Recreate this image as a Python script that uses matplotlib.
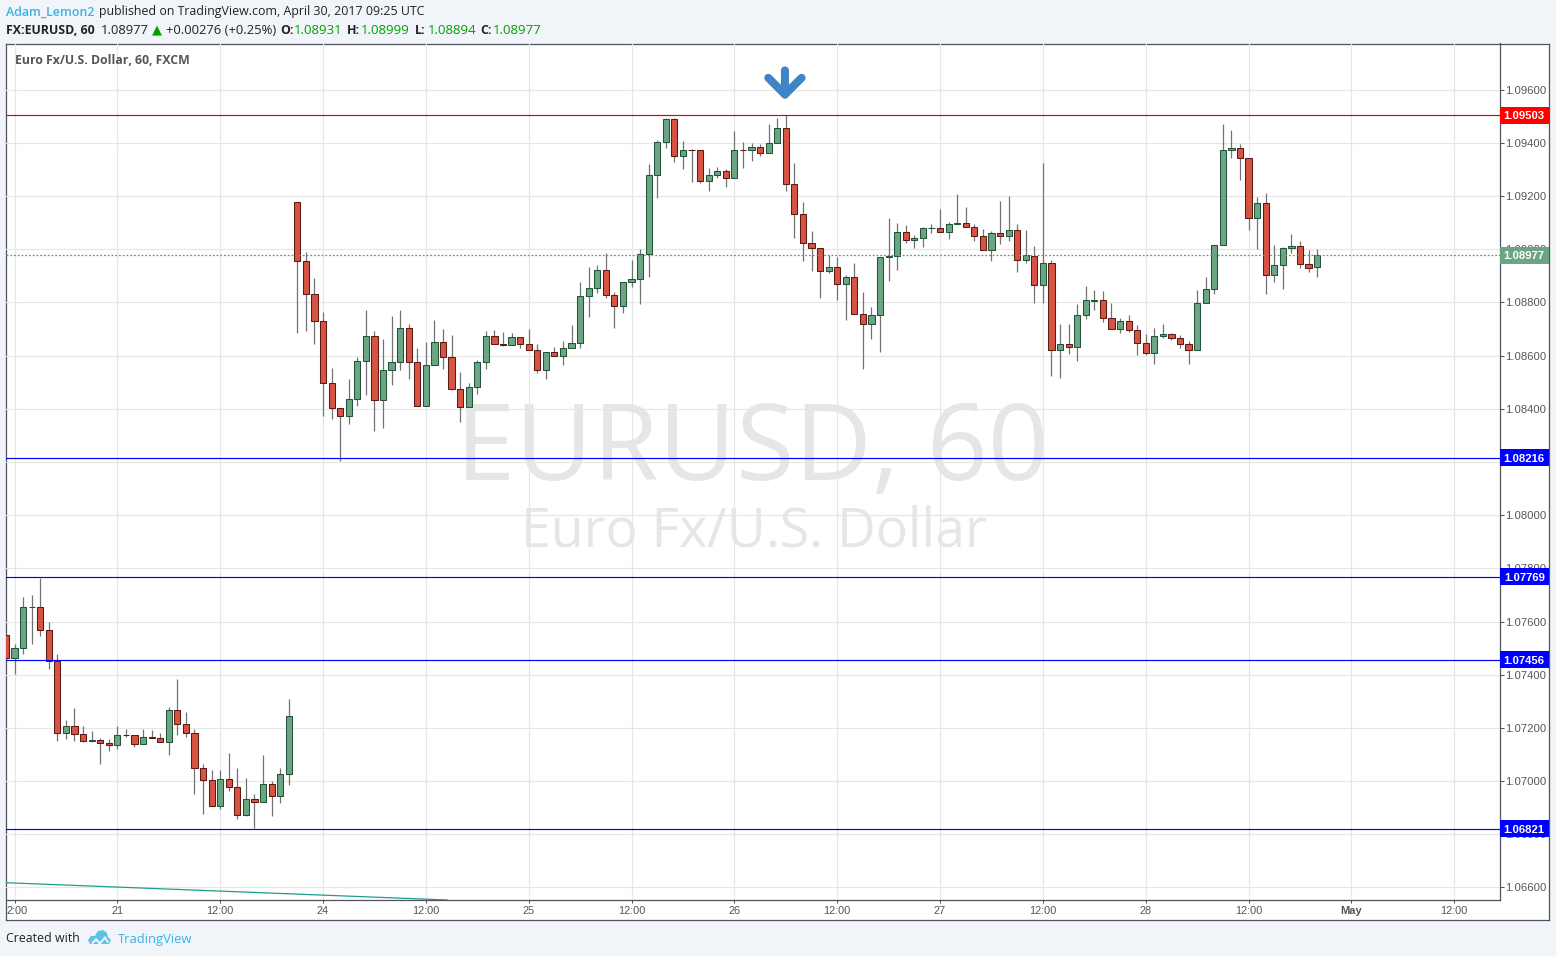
import numpy as np
import matplotlib
matplotlib.use('Agg')
import matplotlib.pyplot as plt
from matplotlib.patches import Polygon, Rectangle
from matplotlib.ticker import FixedLocator
from matplotlib.transforms import ScaledTranslation, blended_transform_factory

W, H = 1556, 956

# candles, in 1e-5 of a dollar
opens = [107548,107463,107501,107654,107655,107568,107452,107181,107208,107177,
         107151,107155,107144,107136,107175,107174,107140,107166,107162,107147,
         107268,107215,107181,107050,107005,106907,107008,106978,106873,106933,
         106922,106989,106944,107027,109179,108957,108833,108728,108498,108401,
         108374,108435,108581,108675,108431,108547,108577,108702,108577,108412,
         108566,108649,108596,108476,108408,108480,108574,108675,108645,108641,
         108671,108645,108619,108544,108613,108598,108628,108647,108823,108853,
         108921,108827,108786,108876,108887,108981,109278,109402,109489,109350,
         109372,109372,109256,109278,109293,109269,109372,109372,109384,109361,
         109399,109455,109244,109132,109023,109004,108917,108932,108868,108895,
         108756,108718,108752,108970,108974,109064,109034,109041,109078,109079,
         109064,109094,109098,109083,109049,108996,109060,109049,109071,108959,
         108975,108864,108947,108620,108642,108631,108751,108806,108808,108740,
         108699,108729,108695,108646,108608,108672,108680,108665,108642,108620,
         108796,108849,109015,109372,109380,109342,109117,109173,108902,108940,
         109004,109011,108944,108931]
highs = [107557,107517,107694,107701,107765,107600,107476,107231,107273,107209,
         107190,107162,107160,107209,107197,107174,107197,107194,107182,107280,
         107382,107261,107197,107066,107043,107040,107107,107051,107010,106953,
         107100,107002,107051,107307,109179,108989,108893,108763,108552,108401,
         108511,108596,108770,108692,108661,108748,108770,108720,108628,108650,
         108733,108699,108676,108537,108496,108582,108692,108695,108688,108683,
         108671,108699,108645,108612,108633,108655,108716,108877,108934,108941,
         108986,108840,108876,108960,109001,109321,109411,109494,109494,109407,
         109377,109372,109306,109310,109302,109445,109404,109400,109396,109471,
         109494,109504,109325,109177,109068,109004,108977,108970,108902,108949,
         108840,108783,108971,109118,109099,109090,109053,109083,109095,109152,
         109102,109208,109159,109094,109075,109068,109182,109201,109094,109073,
         109013,109324,108958,108719,108719,108794,108861,108846,108843,108797,
         108741,108752,108715,108681,108703,108719,108685,108677,108653,108846,
         108895,109014,109471,109449,109396,109342,109196,109212,109016,109008,
         109056,109031,108997,108999]
lows = [107457,107404,107476,107517,107545,107423,107149,107160,107149,107146,
        107146,107066,107115,107122,107164,107130,107140,107162,107147,107100,
        107172,107164,106953,106878,106907,106897,106961,106859,106867,106823,
        106922,106870,106919,106987,108684,108692,108643,108372,108361,108204,
        108342,108410,108451,108316,108327,108488,108545,108511,108412,108412,
        108566,108549,108470,108349,108408,108455,108549,108645,108635,108641,
        108628,108619,108534,108512,108598,108565,108628,108629,108746,108836,
        108817,108704,108761,108858,108794,108896,109193,109381,109328,109302,
        109253,109249,109219,109268,109234,109269,109306,109332,109351,109361,
        109399,109219,109043,108956,108919,108817,108911,108810,108734,108756,
        108550,108663,108614,108881,108922,109024,109005,109009,109061,109064,
        109039,109094,109083,109031,108996,108956,109020,109031,108915,108949,
        108798,108797,108523,108516,108606,108579,108737,108771,108726,108699,
        108685,108688,108602,108602,108568,108666,108658,108628,108568,108620,
        108796,108831,109015,109343,109261,109073,109001,108832,108877,108851,
        108986,108930,108915,108894]
closes = [107463,107501,107655,107655,107568,107452,107181,107208,107177,107151,
          107155,107144,107136,107174,107172,107140,107166,107162,107147,107268,
          107215,107181,107050,107005,106907,107008,106978,106873,106933,106922,
          106989,106944,107027,107245,108957,108833,108728,108498,108401,108374,
          108435,108581,108675,108431,108547,108577,108702,108577,108412,108566,
          108649,108596,108476,108408,108480,108574,108675,108645,108641,108671,
          108645,108619,108544,108612,108598,108628,108647,108823,108853,108921,
          108827,108786,108876,108887,108981,109278,109402,109489,109350,109372,
          109371,109256,109278,109293,109269,109372,109371,109384,109361,109399,
          109455,109244,109132,109023,109004,108917,108932,108868,108895,108756,
          108718,108752,108971,108975,109064,109034,109041,109079,109079,109064,
          109094,109098,109083,109049,108996,109060,109049,109071,108959,108977,
          108865,108947,108620,108642,108631,108751,108808,108808,108740,108699,
          108729,108695,108646,108608,108672,108680,108665,108642,108620,108796,
          108849,109014,109372,109380,109342,109117,109173,108902,108940,109004,
          109011,108944,108929,108977]

level_blue = [1.08216, 1.07769, 1.07456, 1.06821]
level_red = 1.09503
last_price = 1.08977

price_ticks = [1.066, 1.068, 1.070, 1.072, 1.074, 1.076, 1.078, 1.080,
               1.082, 1.084, 1.086, 1.088, 1.090, 1.092, 1.094, 1.096]
time_ticks = [1, 13, 25, 37, 49, 61, 73, 85, 97, 109, 121, 133, 145, 157, 169]
time_labels = ['2:00', '21', '12:00', '24', '12:00', '25', '12:00', '26', '12:00',
               '27', '12:00', '28', '12:00', 'May', '12:00']

trend_x = [0, 51.5]
trend_y = [1.06618, 1.06553]

UP, UP_EDGE = '#6ba583', '#225437'
DOWN, DOWN_EDGE = '#d75442', '#5b1a13'
WICK = '#737375'
GRID = '#e6e6e6'
FRAME = '#50535e'
PAGE = '#f1f4f8'
LINK = '#3bb3e4'
TXT = '#555555'
SANS = 'Open Sans'
ARIAL = 'Liberation Sans'


def px(size):
    return size * 72 / 100


def label(x, y, s, size=12.4, color='#222222', weight='normal', family=SANS, ha='left'):
    fig.text(x / W, 1 - y / H, s, fontsize=px(size), color=color, weight=weight,
             family=family, ha=ha, va='center')


fig = plt.figure(figsize=(W / 100, H / 100), dpi=100, facecolor=PAGE)

# white frame with the time strip and the price strip
frame = fig.add_axes([6.5 / W, 1 - 919.5 / H, 1542.5 / W, 876 / H], facecolor='white')
frame.set_xticks([])
frame.set_yticks([])
for s in frame.spines.values():
    s.set_color(FRAME)
    s.set_linewidth(0.9)

# watermark sits in the frame, so grid and candles go over it
frame.text(752 / W, 1 - 452 / H, 'EURUSD, 60', transform=fig.transFigure, family=SANS,
           fontsize=px(106.5), color='#e6e6e6', ha='center', va='center', zorder=1)
frame.text(754 / W, 1 - 532 / H, 'Euro Fx/U.S. Dollar', transform=fig.transFigure, family=SANS,
           fontsize=px(53.5), color='#e6e6e6', ha='center', va='center', zorder=1)

ax = fig.add_axes([6.5 / W, 1 - 900 / H, 1493 / W, 857 / H], facecolor='none')
ax.set_xlim(0.066, 174.28)
ax.set_ylim(1.06553, 1.09775)
for s in ['top', 'left']:
    ax.spines[s].set_visible(False)
for s in ['right', 'bottom']:
    ax.spines[s].set_color(FRAME)
    ax.spines[s].set_linewidth(0.9)

ax.yaxis.tick_right()
ax.yaxis.set_major_locator(FixedLocator(price_ticks))
ax.set_yticklabels(['%.5f' % p for p in price_ticks], family=ARIAL, fontsize=px(11.2), color=TXT)
ax.set_xticks(time_ticks)
ax.set_xticklabels(time_labels, family=ARIAL, fontsize=px(11), color=TXT)
ax.tick_params(axis='y', length=px(4), width=0.72, color=FRAME, pad=px(2))
ax.tick_params(axis='x', length=px(3), width=0.72, color=FRAME, pad=px(3))
ax.grid(True, color=GRID, linewidth=0.85, zorder=0)
ax.set_axisbelow(True)

ticklabs = ax.get_xticklabels()
ticklabs[0].set_ha('left')
ticklabs[0].set_transform(ticklabs[0].get_transform() + ScaledTranslation(-8.5 / 100, 0, fig.dpi_scale_trans))
ticklabs[13].set_weight('bold')

# candles
o = np.array(opens) / 1e5
h = np.array(highs) / 1e5
l = np.array(lows) / 1e5
c = np.array(closes) / 1e5
x = np.arange(len(o))
up = c >= o
ax.vlines(x, l, h, color=WICK, linewidth=0.9, zorder=3)
bottom = np.minimum(o, c)
height = np.abs(c - o)
ax.bar(x[up], height[up], bottom=bottom[up], width=0.72, color=UP, edgecolor=UP_EDGE,
       linewidth=0.75, zorder=4)
ax.bar(x[~up], height[~up], bottom=bottom[~up], width=0.72, color=DOWN, edgecolor=DOWN_EDGE,
       linewidth=0.75, zorder=4)

# horizontal levels
ax.plot(trend_x, trend_y, color='#1f9e89', linewidth=0.9, zorder=2, clip_on=True)
for lev in level_blue:
    ax.axhline(lev, color='#0000ff', linewidth=0.85, zorder=5)
ax.axhline(level_red, color='#e00000', linewidth=0.85, zorder=5)
ax.axhline(last_price, color='#5d9a78', linewidth=0.9, linestyle=(0, (1.5, 1.5)), zorder=5)

# price tags on the right strip
tr = blended_transform_factory(ax.transAxes, ax.transData)
PX_PRICE = 3.76e-5
tag_h = 17 * PX_PRICE
tag_w = 49.5 / 1493


def tag(price, color):
    ax.add_patch(Rectangle((1, price - tag_h / 2), tag_w, tag_h, transform=tr, facecolor=color,
                           edgecolor='none', clip_on=False, zorder=6))
    ax.text(1 + tag_w / 2, price - PX_PRICE, '%.5f' % price, transform=tr, color='white', family=ARIAL,
            weight='bold', fontsize=px(11.2), ha='center', va='center', zorder=7)


tag(level_red, '#ff0000')
for lev in level_blue:
    tag(lev, '#0000ff')
tag(last_price, UP)

# arrow above the top
ax.annotate('', xy=(90.9, 1.09560), xytext=(90.9, 1.09672),
            arrowprops=dict(arrowstyle='->,head_length=0.6,head_width=0.6', color='#3d85c6',
                            linewidth=5.8, shrinkA=0, shrinkB=0, mutation_scale=20), zorder=8)

label(15, 61, 'Euro Fx/U.S. Dollar, 60, FXCM', size=12.3, color=TXT, weight='bold')

# header
label(6, 12, 'Adam_Lemon2', color=LINK, weight='semibold')
label(99, 12, 'published on TradingView.com, April 30, 2017 09:25 UTC')
label(6, 30, 'FX:EURUSD, 60', weight='bold')
label(101, 30, '1.08977', size=13)
label(152, 30, '\u25b2', size=13, color='#00a000', family='DejaVu Sans')
label(166, 30, '+0.00276 (+0.25%)', size=13)
for xb, xv, name, val in [(280, 294, 'O:', '1.08931'), (347, 361, 'H:', '1.08999'),
                          (415, 428, 'L:', '1.08894'), (480, 493, 'C:', '1.08977')]:
    label(xb, 30, name, weight='bold')
    label(xv, 30, val, size=13.3, color='#00a000')

# footer
label(6, 939, 'Created with')
label(118, 939, 'TradingView', size=13, color=LINK)


def pts(coords):
    return [(a / W, 1 - b / H) for a, b in coords]


cloud = [(88, 940), (91, 936), (95, 936), (98, 931), (103, 930), (107, 933), (108, 937),
         (111, 940), (109, 944), (90, 944)]
fig.add_artist(Polygon(pts(cloud), transform=fig.transFigure, facecolor='#5cc3e8', edgecolor='none', zorder=9))
zig = [(91, 943), (96, 938), (100, 942), (105, 936), (109, 942), (107, 943), (105, 939),
       (100, 945), (96, 941), (93, 944)]
fig.add_artist(Polygon(pts(zig), transform=fig.transFigure, facecolor=PAGE, edgecolor='none', zorder=10))

fig.savefig('out.png', dpi=100, facecolor=PAGE)
